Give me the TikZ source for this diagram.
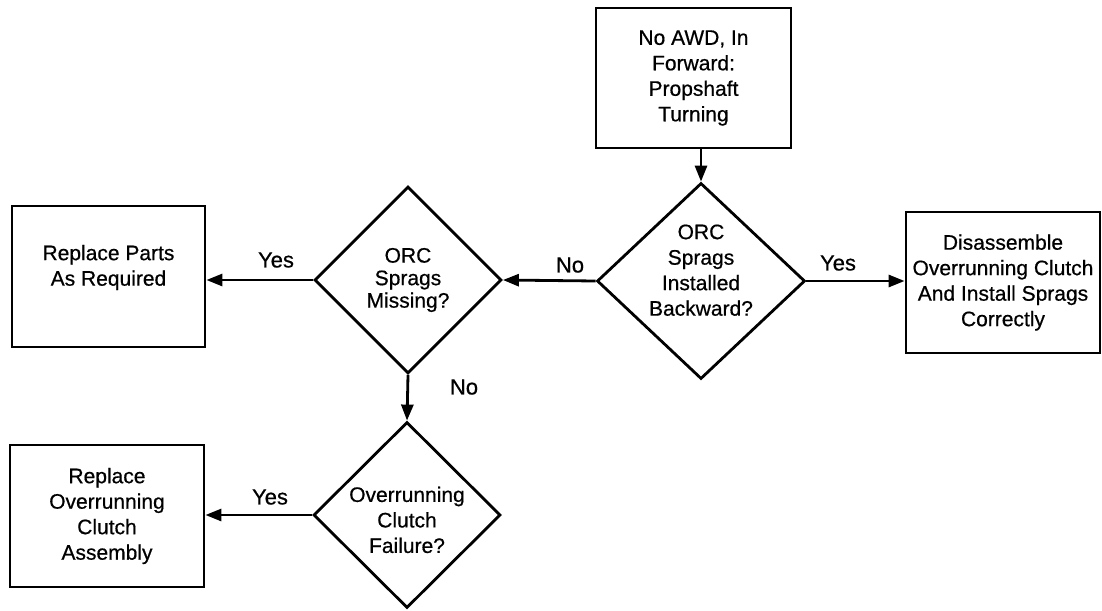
\documentclass[tikz,border=0pt]{standalone}
\usepackage{fontspec}
\setmainfont{Liberation Sans}[FakeBold=0.6]
\usetikzlibrary{shapes.geometric,arrows.meta}
\newcommand{\liftlines}[2]{\raisebox{#1}[0pt][0pt]{\begin{tabular}{@{}c@{}}#2\end{tabular}}}
\tikzset{
  box/.style={draw=black, line width=2.8pt, fill=white, rectangle, align=center, inner sep=0pt,
    font=\fontsize{21}{25.5}\selectfont},
  decision/.style={draw=black, line width=2.8pt, fill=white, diamond, align=center, inner sep=0pt,
    font=\fontsize{21}{25.5}\selectfont},
  flow/.style={draw=black, line width=2.8pt, -{Triangle[length=16pt,width=12pt]}},
  lbl/.style={font=\fontsize{22}{24}\selectfont, inner sep=0pt}
}
\begin{document}
\begin{tikzpicture}[x=1pt,y=-1pt]
\useasboundingbox (0,0) rectangle (1102,610);
\fill[white] (0,0) rectangle (1102,610);

\node[box, minimum width=195pt, minimum height=140pt] (top) at (693.5,78)
  {No AWD, In\\Forward:\\Propshaft\\Turning};
\node[decision, minimum width=208pt, minimum height=196pt] (d1) at (701,281)
  {\liftlines{3.5pt}{ORC\\Sprags\\Installed\\Backward?}};
\node[box, minimum width=194pt, minimum height=141pt] (right) at (1003,282.5)
  {Disassemble\\Overrunning Clutch\\And Install Sprags\\Correctly};
\node[decision, minimum width=187pt, minimum height=187pt, font=\fontsize{21}{22.5}\selectfont] (d2) at (408,280)
  {ORC\\Sprags\\Missing?};
\node[box, minimum width=193pt, minimum height=141pt] (left1) at (108.5,276.5)
  {\liftlines{3.5pt}{Replace Parts\\As Required}};
\node[decision, minimum width=187pt, minimum height=186pt] (d3) at (407,515)
  {\liftlines{-12.5pt}{Overrunning\\Clutch\\Failure?}};
\node[box, minimum width=194pt, minimum height=142pt] (left2) at (107,516)
  {Replace\\Overrunning\\Clutch\\Assembly};

\draw[flow] (d1.north |- top.south) -- (d1.north);
\draw[flow] (d1.east) -- (right.west |- d1.east);
\draw[flow] (d1.west) -- (d2.east);
\draw[flow] (d2.west) -- (left1.east |- d2.west);
\draw[flow] (d2.south) -- (d3.north);
\draw[flow] (d3.west) -- (left2.east |- d3.west);

\node[lbl] (y1) at (838,263) {Yes};
\node[lbl] (n1) at (570,265) {No};
\node[lbl] (y2) at (276,260) {Yes};
\node[lbl] (n2) at (464,387) {No};
\node[lbl] (y3) at (270,497) {Yes};
\end{tikzpicture}
\end{document}
